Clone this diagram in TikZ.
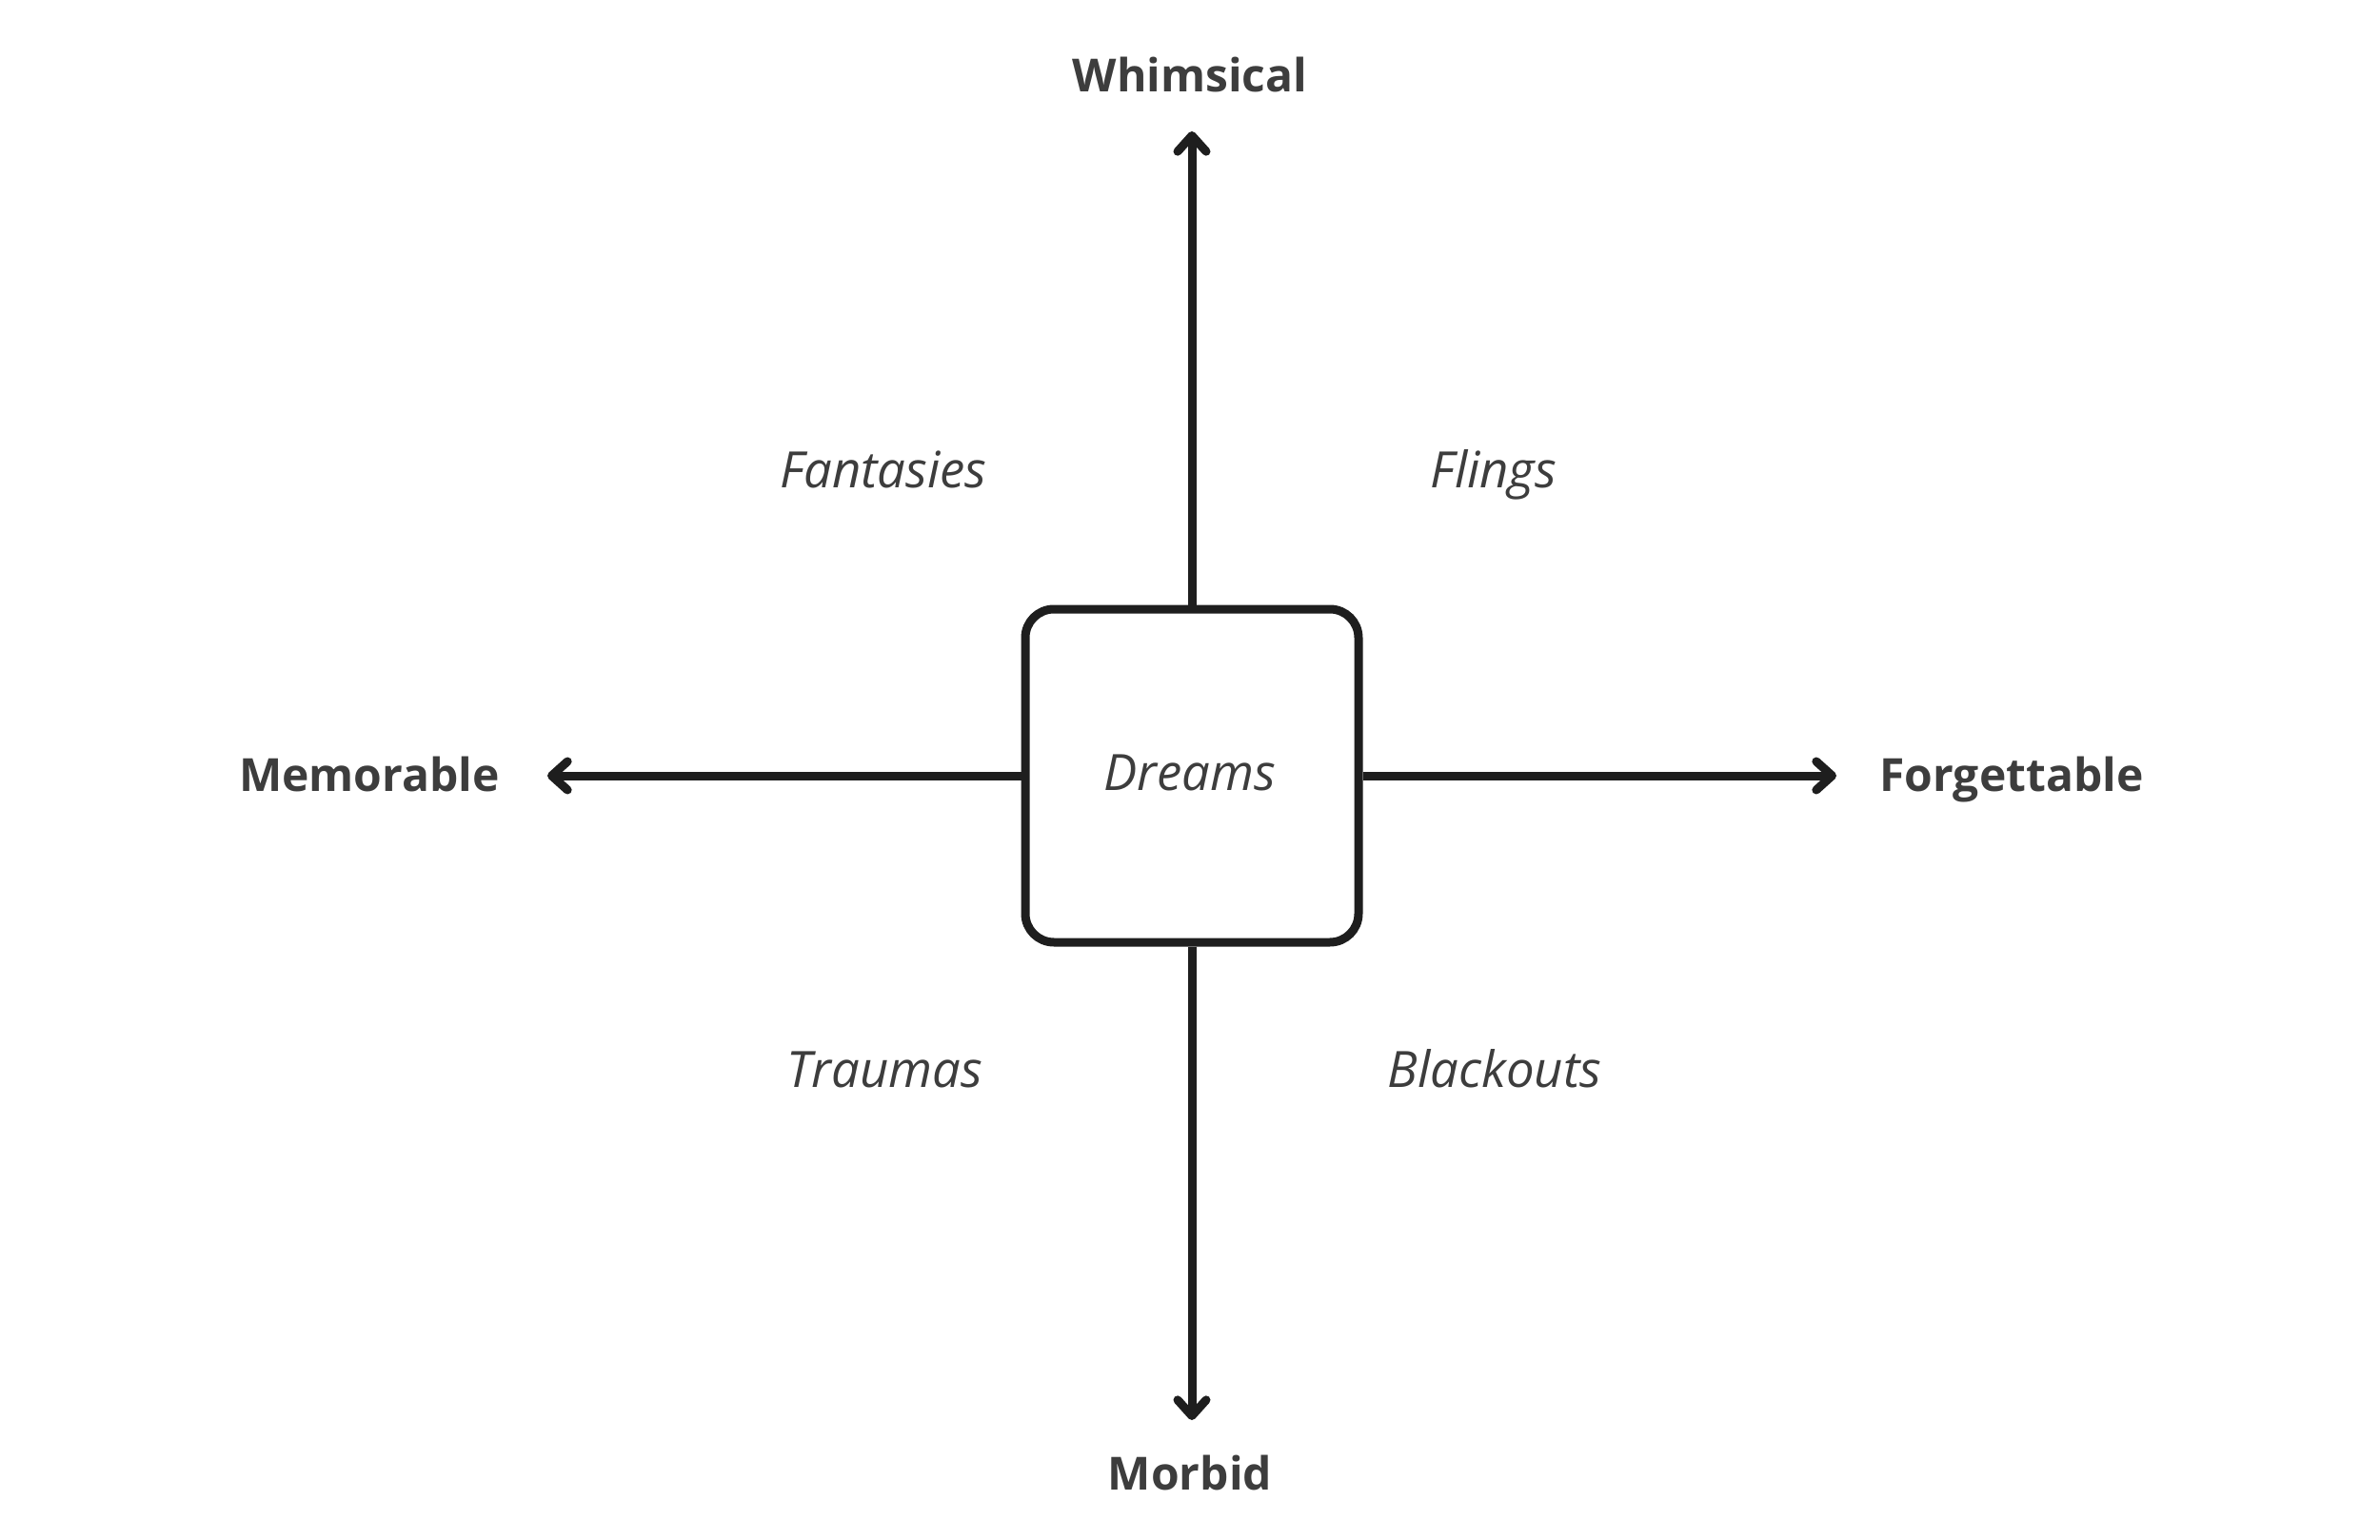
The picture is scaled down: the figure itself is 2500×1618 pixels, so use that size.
\documentclass[tikz,border=0pt]{standalone}
\usepackage{fontspec}
\setmainfont{Open Sans}
\usetikzlibrary{arrows.meta}
\definecolor{txt}{HTML}{3D3D3D}
\definecolor{ln}{HTML}{1E1E1E}
\begin{document}
\begin{tikzpicture}[x=0.3pt,y=-0.3pt,
  axis/.style={draw=ln,line width=2.7pt,-{Straight Barb[length=5pt,width=9pt,line cap=round,line join=round]}},
  boxnode/.style={draw=ln,line width=2.7pt,rounded corners=9pt,minimum width=105pt,minimum height=105pt,inner sep=0pt,fill=white},
  pole/.style={font=\fontsize{14.4}{17}\selectfont\bfseries,text=txt,anchor=base,inner sep=0pt},
  quad/.style={font=\fontsize{15.8}{18}\selectfont\itshape,text=txt,anchor=base,inner sep=0pt}]
\useasboundingbox (0,0) rectangle (2500,1618);
\node[boxnode] (box) at (1252,815) {};
\node[quad] (dreams) at (1250,830) {Dreams};
\coordinate (tu) at (1252,138);
\coordinate (td) at (1252,1492);
\coordinate (tl) at (575,815);
\coordinate (tr) at (1929,815);
\draw[axis] (box.north) -- (tu);
\draw[axis] (box.south) -- (td);
\draw[axis] (box.west) -- (tl);
\draw[axis] (box.east) -- (tr);
\node[pole] (whim) at (1250,97) {Whimsical};
\node[pole] (morb) at (1250,1565) {Morbid};
\node[pole] (mem) at (388,831) {Memorable};
\node[pole] (forg) at (2113,831) {Forgettable};
\node[quad] (fant) at (928,512) {Fantasies};
\node[quad] (fling) at (1569,512) {Flings};
\node[quad] (trau) at (929,1142) {Traumas};
\node[quad] (black) at (1570,1142) {Blackouts};
\end{tikzpicture}
\end{document}
